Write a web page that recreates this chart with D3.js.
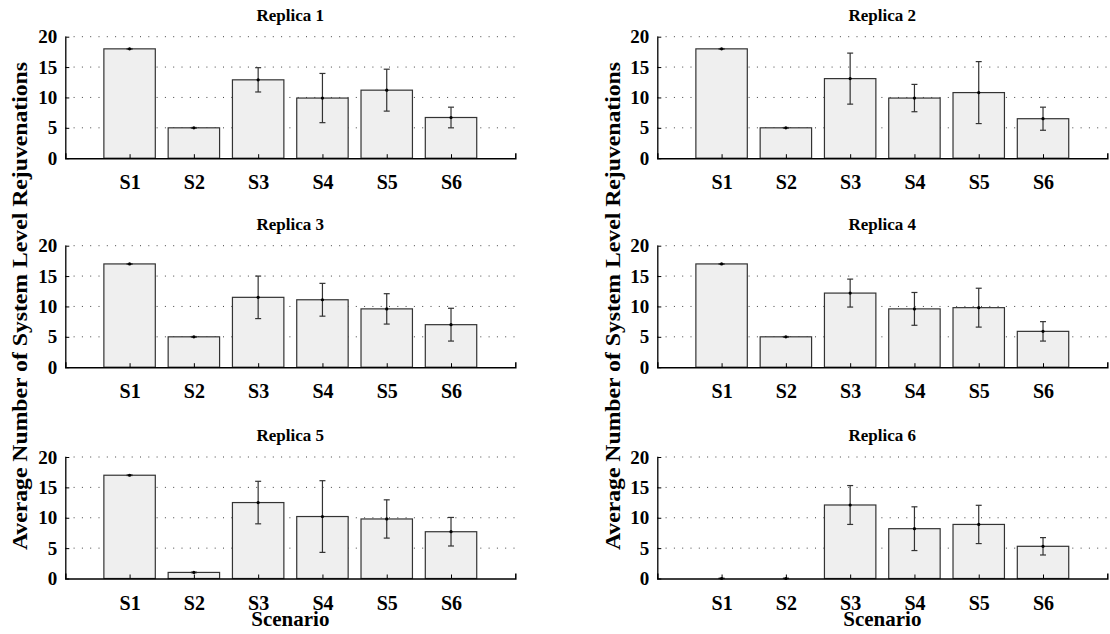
<!DOCTYPE html>
<html>
<head>
<meta charset="utf-8">
<script src="https://cdn.jsdelivr.net/npm/d3@7"></script>
<style>
body{margin:0;background:#fff}
</style>
</head>
<body>
<script>
// data
var scenarios = ["S1","S2","S3","S4","S5","S6"]
var titles = ["Replica 1","Replica 2","Replica 3","Replica 4","Replica 5","Replica 6"]
var yTicks = [0,5,10,15,20]

var rep1Mean = [18, 5, 12.9, 9.9, 11.2, 6.7]
var rep1Err  = [0.05, 0.05, 2.0, 4.05, 3.45, 1.7]
var rep2Mean = [18, 5, 13.1, 9.9, 10.8, 6.5]
var rep2Err  = [0.05, 0.05, 4.2, 2.25, 5.1, 1.9]
var rep3Mean = [17, 5, 11.5, 11.1, 9.6, 7.0]
var rep3Err  = [0.05, 0.05, 3.5, 2.7, 2.5, 2.7]
var rep4Mean = [17, 5, 12.2, 9.6, 9.8, 5.9]
var rep4Err  = [0.05, 0.05, 2.3, 2.7, 3.2, 1.6]
var rep5Mean = [17, 1, 12.5, 10.2, 9.8, 7.7]
var rep5Err  = [0.05, 0.05, 3.5, 5.9, 3.15, 2.35]
var rep6Mean = [0, 0, 12.1, 8.2, 8.9, 5.3]
var rep6Err  = [0.05, 0.05, 3.2, 3.6, 3.15, 1.43]

var means = [rep1Mean,rep2Mean,rep3Mean,rep4Mean,rep5Mean,rep6Mean]
var errs = [rep1Err,rep2Err,rep3Err,rep4Err,rep5Err,rep6Err]

var FONT="'Liberation Serif','Times New Roman','DejaVu Serif',serif"
var W=1110,H=634
var svg=d3.select("body").append("svg").attr("width",W).attr("height",H)
    .style("font-family",FONT).style("font-weight","bold")
svg.append("rect").attr("width",W).attr("height",H).attr("fill","#fff")

var colX=[65.3,657.3], rowY=[36.7,245.7,457]
var pw=450, ph=121.5

function txt(sel,size){
    return sel.style("font-family",FONT).style("font-weight","bold").style("font-size",size).attr("fill","#000")
}

function panel(k){
    var px=colX[k%2], py=rowY[Math.floor(k/2)]
    var g=svg.append("g").attr("transform","translate("+px+","+py+")")
    var x=d3.scaleLinear().domain([0,7]).range([0,pw])
    var y=d3.scaleLinear().domain([0,20]).range([ph,0])
    var bw=x(0.8)-x(0)

    // dotted grid
    g.selectAll(".grid").data(yTicks.slice(1)).enter().append("line")
        .attr("x1",0).attr("x2",pw)
        .attr("y1",function(d){return y(d)}).attr("y2",function(d){return y(d)})
        .attr("stroke","#444").attr("stroke-width",1).attr("stroke-dasharray","1,7.3")

    // bars
    var data=scenarios.map(function(s,i){return {s:s,i:i+1,m:means[k][i],e:errs[k][i]}})
    g.selectAll(".bar").data(data).enter().append("rect")
        .attr("x",function(d){return x(d.i)-bw/2})
        .attr("y",function(d){return y(d.m)})
        .attr("width",bw)
        .attr("height",function(d){return y(0)-y(d.m)})
        .attr("fill","#efefef").attr("stroke","#333").attr("stroke-width",1.2)

    // error bars
    var eb=g.selectAll(".eb").data(data).enter().append("g").attr("stroke","#333").attr("stroke-width",1.2)
    eb.append("line")
        .attr("x1",function(d){return x(d.i)}).attr("x2",function(d){return x(d.i)})
        .attr("y1",function(d){return y(d.m+d.e)}).attr("y2",function(d){return y(Math.max(0,d.m-d.e))})
    eb.append("line")
        .attr("x1",function(d){return x(d.i)-3}).attr("x2",function(d){return x(d.i)+3})
        .attr("y1",function(d){return y(d.m+d.e)}).attr("y2",function(d){return y(d.m+d.e)})
    eb.append("line")
        .attr("x1",function(d){return x(d.i)-3}).attr("x2",function(d){return x(d.i)+3})
        .attr("y1",function(d){return y(Math.max(0,d.m-d.e))}).attr("y2",function(d){return y(Math.max(0,d.m-d.e))})
    g.selectAll(".dot").data(data).enter().append("circle")
        .attr("cx",function(d){return x(d.i)}).attr("cy",function(d){return y(d.m)})
        .attr("r",1.6).attr("fill","#000")

    // axes
    var ya=g.append("g").call(d3.axisLeft(y).tickValues(yTicks).tickSizeInner(-4).tickSizeOuter(0).tickPadding(8))
    ya.attr("font-family",null)
    ya.select(".domain").attr("stroke","#000").attr("stroke-width",1.3)
    ya.selectAll(".tick line").attr("stroke","#000")
    txt(ya.selectAll("text"),"19px")

    var xa=g.append("g").attr("transform","translate(0,"+ph+")")
        .call(d3.axisBottom(x).tickValues(d3.range(1,7)).tickFormat(function(d){return scenarios[d-1]})
            .tickSizeInner(-4).tickSizeOuter(-5).tickPadding(17))
    xa.attr("font-family",null)
    xa.select(".domain").attr("stroke","#000").attr("stroke-width",1.5)
    xa.selectAll(".tick line").attr("stroke","#000")
    txt(xa.selectAll("text"),"20px")

    txt(g.append("text").attr("x",pw/2).attr("y",-16).attr("text-anchor","middle"),"17px").text(titles[k])

    if (k>=4)
        txt(g.append("text").attr("x",pw/2).attr("y",ph+47).attr("text-anchor","middle"),"21px").text("Scenario")
}

for(var k=0;k<6;k++) panel(k)

// y labels
;[20,613].forEach(function(cx){
    txt(svg.append("text").attr("transform","translate("+(cx+7)+",306) rotate(-90)")
        .attr("text-anchor","middle"),"21px")
        .attr("textLength",488).attr("lengthAdjust","spacingAndGlyphs")
        .text("Average Number of System Level Rejuvenations")
})
</script>
</body>
</html>
